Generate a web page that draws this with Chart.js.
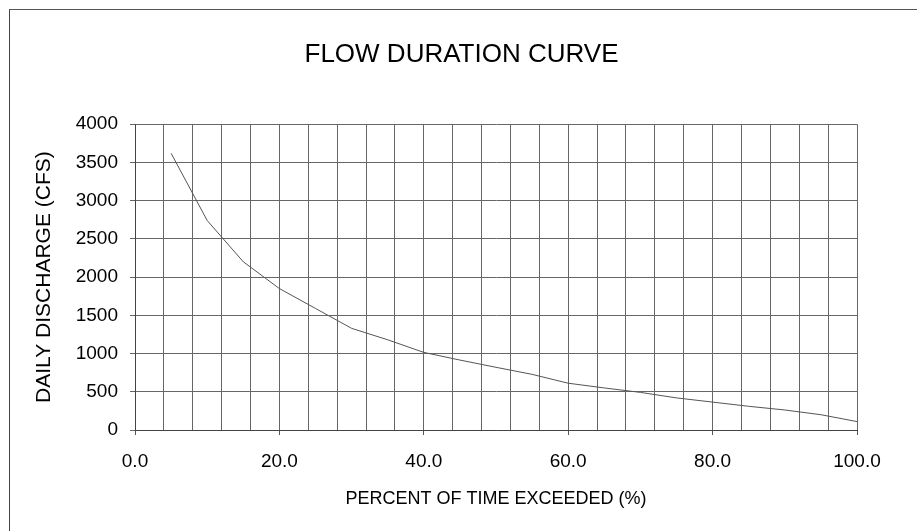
<!DOCTYPE html>
<html>
<head>
<meta charset="utf-8">
<script src="https://cdn.jsdelivr.net/npm/chart.js@4.4.1/dist/chart.umd.min.js"></script>
<style>
  body { margin: 0; background: #fff; }
  .con { position: relative; width: 917px; height: 531px; }
  .frame { position: absolute; left: 9px; top: 9px; width: 940px; height: 560px;
           border-left: 1px solid #444; border-top: 1px solid #555; }
  canvas { position: absolute; left: 0; top: 0; }
</style>
</head>
<body>
<div class="con">
  <div class="frame"></div>
  <canvas id="fdc" width="917" height="531"></canvas>
</div>
<script>
// values
const percentExceeded = [5, 10, 15, 20, 25, 30, 35, 40, 45, 50, 55, 60, 65, 70, 75, 80, 85, 90, 95, 100]
const dailyDischarge = [3620, 2740, 2200, 1850, 1590, 1330, 1180, 1015, 915, 820, 728, 612, 550, 492, 420, 365, 310, 262, 200, 110]
const xLabelTicks = [0, 20, 40, 60, 80, 100]
const yTicks = [0, 500, 1000, 1500, 2000, 2500, 3000, 3500, 4000]

const font = '"Liberation Sans", Arial, sans-serif'
const points = percentExceeded.map((p, i) => ({x: p, y: dailyDischarge[i]}))

let ctx = document.getElementById('fdc').getContext('2d')
let myChart = new Chart(ctx, {
    type: 'scatter',
    data: {
        datasets: [{
            data: points,
            showLine: true,
            borderColor: '#555',
            borderWidth: 1,
            pointRadius: 0,
            tension: 0
        }]
    },
    options: {
        responsive: false,
        animation: false,
        // left padding keeps the main title centred on the page
        layout: { padding: { left: 66, right: 60, top: 0, bottom: 0 } },
        plugins: {
            legend: { display: false },
            tooltip: { enabled: false },
            title: {
                display: true,
                text: 'FLOW DURATION CURVE',
                color: '#000',
                font: { family: font, size: 26, weight: 'normal' },
                padding: { top: 39, bottom: 54 }
            }
        },
        scales: {
            x: {
                type: 'linear',
                min: 0,
                max: 100,
                afterFit: function(scale) { scale.height = 101 },
                afterBuildTicks: function(scale) {
                    scale.ticks = []
                    for (let v = 0; v <= 100; v += 4) scale.ticks.push({value: v})
                },
                ticks: {
                    autoSkip: false,
                    maxRotation: 0,
                    color: '#000',
                    padding: 15,
                    font: { family: font, size: 19 },
                    callback: function(value) {
                        return xLabelTicks.includes(value) ? value.toFixed(1) : ''
                    }
                },
                grid: {
                    color: '#666',
                    lineWidth: 1,
                    tickLength: 5,
                    tickColor: function(c) {
                        return c.tick && xLabelTicks.includes(c.tick.value) ? '#555' : 'rgba(0,0,0,0)'
                    }
                },
                border: { color: '#444' },
                title: {
                    display: true,
                    text: 'PERCENT OF TIME EXCEEDED (%)',
                    color: '#000',
                    font: { family: font, size: 18 },
                    padding: { top: 0, bottom: 21 }
                }
            },
            y: {
                min: 0,
                max: 4000,
                afterFit: function(scale) { scale.width = 69 },
                afterBuildTicks: function(scale) {
                    scale.ticks = yTicks.map(v => ({value: v}))
                },
                ticks: {
                    color: '#000',
                    padding: 12,
                    font: { family: font, size: 19 },
                    callback: function(value) { return String(value) }
                },
                grid: {
                    color: '#666',
                    lineWidth: 1,
                    tickLength: 5,
                    tickColor: '#666'
                },
                border: { color: '#444' },
                title: {
                    display: true,
                    text: 'DAILY DISCHARGE (CFS)',
                    color: '#000',
                    font: { family: font, size: 21 },
                    padding: { top: -34.5, bottom: 0 }
                }
            }
        }
    }
})
</script>
</body>
</html>
